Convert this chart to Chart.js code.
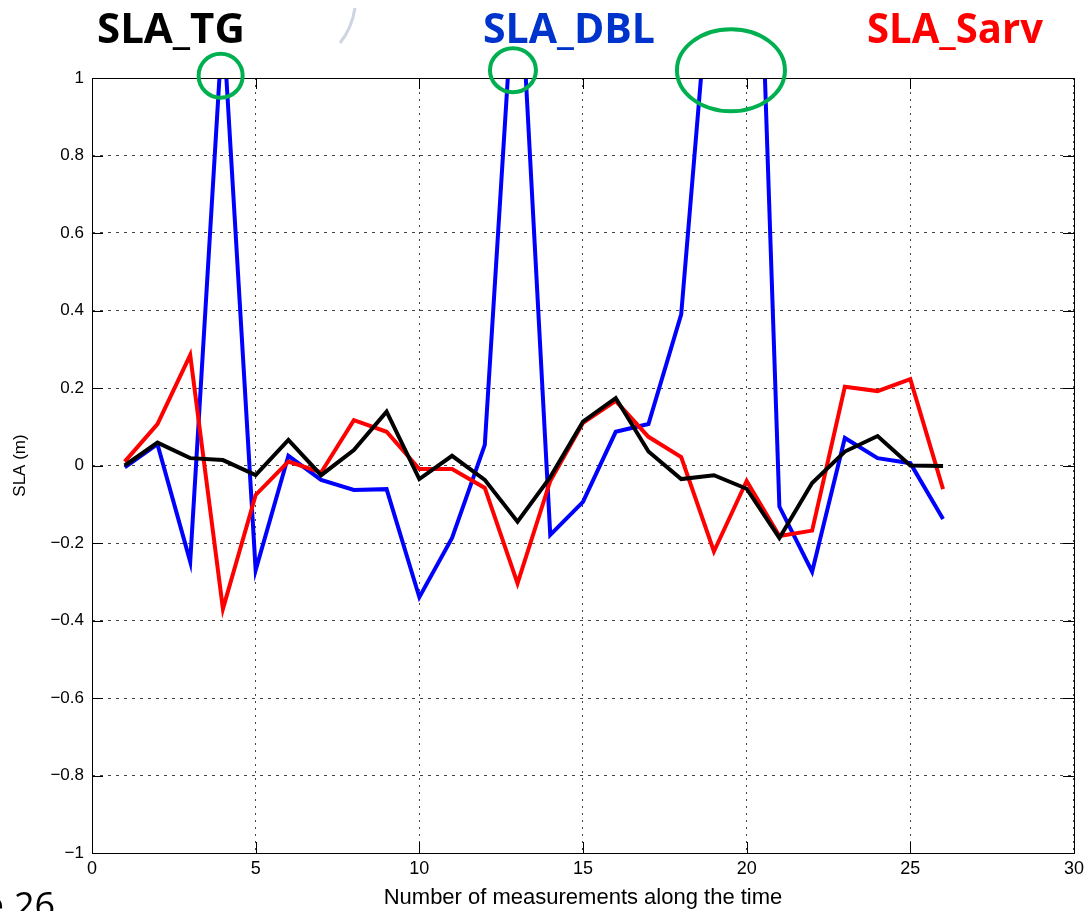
<!DOCTYPE html>
<html>
<head>
<meta charset="utf-8">
<script src="https://cdn.jsdelivr.net/npm/chart.js@4"></script>
<style>
  html, body { margin: 0; padding: 0; background: #fff; }
  canvas { display: block; }
</style>
</head>
<body>
<canvas id="slaChart" width="1089" height="911"></canvas>
<script>
// measurement index along the time
const xs = [1, 2, 3, 4, 5, 6, 7, 8, 9, 10, 11, 12, 13, 14, 15, 16, 17, 18, 19, 20, 21, 22, 23, 24, 25, 26];

// SLA (m)
const slaTG = [0.0, 0.059, 0.019, 0.014, -0.025, 0.066, -0.025, 0.04, 0.139, -0.035, 0.025, -0.037, -0.145,
    -0.03, 0.113, 0.174, 0.036, -0.035, -0.025, -0.06, -0.187, -0.045, 0.036, 0.076, 0.0, -0.001];
const slaSarv = [0.01, 0.107, 0.285, -0.37, -0.076, 0.01, -0.018, 0.117, 0.087, -0.009, -0.009, -0.058, -0.304,
    -0.04, 0.11, 0.167, 0.074, 0.022, -0.222, -0.04, -0.182, -0.168, 0.203, 0.192, 0.223, -0.061];
const slaDBL = [-0.005, 0.055, -0.248, 1.15, -0.27, 0.025, -0.037, -0.063, -0.061, -0.34, -0.187, 0.053, 1.4,
    -0.179, -0.094, 0.087, 0.107, 0.39, 1.4, 2.4, -0.106, -0.274, 0.071, 0.019, 0.006, -0.138];

const xTicks = [0, 5, 10, 15, 20, 25, 30];
const seriesNames = ['SLA_TG', 'SLA_DBL', 'SLA_Sarv'];

const pts = arr => arr.map((v, i) => ({ x: xs[i], y: v }));

const frame = {
    id: 'frame',
    afterDatasetsDraw(chart) {
        const { ctx, chartArea: a, scales } = chart;
        ctx.save();
        ctx.strokeStyle = '#000';
        ctx.lineWidth = 1;
        ctx.strokeRect(a.left + 0.5, a.top + 0.5, a.right - a.left, a.bottom - a.top);
        ctx.beginPath();
        const len = 11;
        scales.x.ticks.forEach(t => {
            const px = Math.round(scales.x.getPixelForValue(t.value)) + 0.5;
            ctx.moveTo(px, a.bottom); ctx.lineTo(px, a.bottom - len);
            ctx.moveTo(px, a.top); ctx.lineTo(px, a.top + len);
        });
        scales.y.ticks.forEach(t => {
            const py = Math.round(scales.y.getPixelForValue(t.value)) + 0.5;
            ctx.moveTo(a.left, py); ctx.lineTo(a.left + len, py);
            ctx.moveTo(a.right, py); ctx.lineTo(a.right - len, py);
        });
        ctx.stroke();
        ctx.restore();
    },
    afterDraw(chart) {
        const { ctx, scales } = chart;
        ctx.save();
        // green circles around the clipped peaks
        ctx.strokeStyle = '#00b050';
        ctx.lineWidth = 4;
        [[3.93, 1.006, 22, 22], [12.86, 1.02, 23, 22], [19.52, 1.02, 54, 41]].forEach(([x, y, rx, ry]) => {
            ctx.beginPath();
            ctx.ellipse(scales.x.getPixelForValue(x), scales.y.getPixelForValue(y), rx, ry, 0, 0, Math.PI * 2);
            ctx.stroke();
        });

        // series names over the plot
        ctx.font = 'bold 42px "Open Sans"';
        ctx.textBaseline = 'alphabetic';
        ctx.fillStyle = '#000';
        ctx.fillText(seriesNames[0], 97, 43, 148);
        ctx.fillStyle = '#0033cc';
        ctx.fillText(seriesNames[1], 483, 43, 172);
        ctx.fillStyle = '#ff0000';
        ctx.fillText(seriesNames[2], 867, 43, 176);

        // faint leftover mark
        ctx.strokeStyle = 'rgba(170,185,205,0.6)';
        ctx.lineWidth = 3;
        ctx.beginPath();
        ctx.moveTo(355, 8);
        ctx.quadraticCurveTo(352, 28, 340, 43);
        ctx.stroke();

        // slide number cut off at the bottom
        ctx.fillStyle = '#000';
        ctx.font = '36px "Open Sans"';
        ctx.textAlign = 'right';
        ctx.fillText('e', 4, 918);
        ctx.textAlign = 'left';
        ctx.fillText('26', 14, 918);
        ctx.restore();
    }
};

const ctx = document.getElementById('slaChart');

new Chart(ctx, {
    type: 'line',
    data: {
        datasets: [
            { label: 'SLA_TG', data: pts(slaTG), borderColor: '#000000' },
            { label: 'SLA_Sarv', data: pts(slaSarv), borderColor: '#ff0000' },
            { label: 'SLA_DBL', data: pts(slaDBL), borderColor: '#0000ff' }
        ]
    },
    options: {
        responsive: false,
        animation: false,
        events: [],
        layout: {
            padding: { top: 78, right: 15, bottom: 0, left: 0 }
        },
        elements: {
            line: { borderWidth: 4, tension: 0, fill: false },
            point: { radius: 0 }
        },
        datasets: {
            line: { clip: 0 }
        },
        plugins: {
            legend: { display: false },
            tooltip: { enabled: false }
        },
        scales: {
            x: {
                type: 'linear',
                min: 0,
                max: 30,
                afterBuildTicks: s => { s.ticks = xTicks.map(v => ({ value: v })); },
                afterFit: s => { s.height = 58; },
                ticks: {
                    color: '#000',
                    font: { family: 'Liberation Sans', size: 18 },
                    padding: 5,
                    maxRotation: 0
                },
                grid: { color: '#444', lineWidth: 1, drawTicks: false },
                border: { display: false, dash: [2, 5] },
                title: {
                    display: true,
                    text: 'Number of measurements along the time',
                    color: '#000',
                    font: { family: 'Liberation Sans', size: 22 },
                    padding: { top: 0, bottom: 0 }
                }
            },
            y: {
                min: -1,
                max: 1,
                afterFit: s => { s.width = 92; },
                ticks: {
                    stepSize: 0.2,
                    color: '#000',
                    font: { family: 'Liberation Sans', size: 17 },
                    padding: 8,
                    callback: v => (Math.round(v * 10) / 10).toString().replace('-', '\u2212')
                },
                grid: { color: '#444', lineWidth: 1, drawTicks: false },
                border: { display: false, dash: [3, 5] },
                title: {
                    display: true,
                    text: 'SLA (m)',
                    color: '#000',
                    font: { family: 'Liberation Sans', size: 17 },
                    padding: { top: 10, bottom: 0 }
                }
            }
        }
    },
    plugins: [frame]
});
</script>
</body>
</html>
